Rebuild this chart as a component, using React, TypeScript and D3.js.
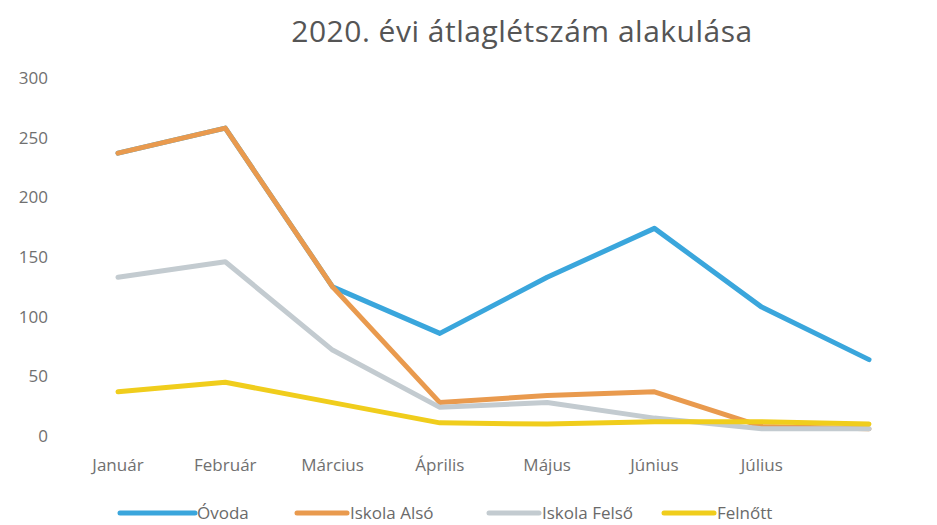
import React from "react";
import * as d3 from "d3";

const months = ["Január", "Február", "Március", "Április", "Május", "Június", "Július", ""];
const yTicks = [0, 50, 100, 150, 200, 250, 300];
const ovoda = [237, 258, 125, 86, 133, 174, 108, 64];
const iskolaAlso = [237, 258, 125, 28, 34, 37, 8, 6];
const iskolaFelso = [133, 146, 72, 24, 28, 15, 6, 6];
const felnott = [37, 45, 28, 11, 10, 12, 12, 10];
const seriesNames = ["Óvoda", "Iskola Alsó", "Iskola Felső", "Felnőtt"];
const seriesColors = ["#3aa6dc", "#e99a4e", "#c3cbd0", "#f0cd1c"];
const title = "2020. évi átlaglétszám alakulása";

export default function App() {
  const W = 937, H = 525;
  const tfont = "'Open Sans', Lato, sans-serif";
  const x = d3.scalePoint<number>().domain(d3.range(months.length)).range([118, 869]);
  const y = d3.scaleLinear().domain([0, 300]).range([436, 78]);
  const allSeries = [ovoda, iskolaAlso, iskolaFelso, felnott];
  const line = d3
    .line<number>()
    .x((_, i) => x(i) as number)
    .y((d) => y(d));
  const legendX = [120, 297, 489, 664];
  return (
    <svg width={W} height={H} style={{ position: "absolute", left: 0, top: 0, background: "#fff" }}>
      <text x={522} y={42} textAnchor="middle" fontFamily={tfont} fontSize={30} fill="#555555" letterSpacing={0.5}>
        {title}
      </text>
      {yTicks.map((t) => (
        <text key={t} x={48} y={y(t) + 6} textAnchor="end" fontFamily={tfont} fontSize={17} fill="#707070">
          {t}
        </text>
      ))}
      {months.map((m, i) => (
        <text key={i} x={x(i) as number} y={471} textAnchor="middle" fontFamily={tfont} fontSize={17} fill="#707070">
          {m}
        </text>
      ))}
      {allSeries.map((s, k) => (
        <path
          key={k}
          d={line(s) || ""}
          fill="none"
          stroke={seriesColors[k]}
          strokeWidth={5}
          strokeLinejoin="round"
          strokeLinecap="round"
        />
      ))}
      {seriesNames.map((n, k) => (
        <g key={n}>
          <line
            x1={legendX[k]}
            x2={legendX[k] + (k === 0 ? 75 : 50)}
            y1={513}
            y2={513}
            stroke={seriesColors[k]}
            strokeWidth={5}
            strokeLinecap="round"
          />
          <text x={legendX[k] + (k === 0 ? 77 : 53)} y={519} fontFamily={tfont} fontSize={17} fill="#6a6a6a">
            {n}
          </text>
        </g>
      ))}
    </svg>
  );
}
